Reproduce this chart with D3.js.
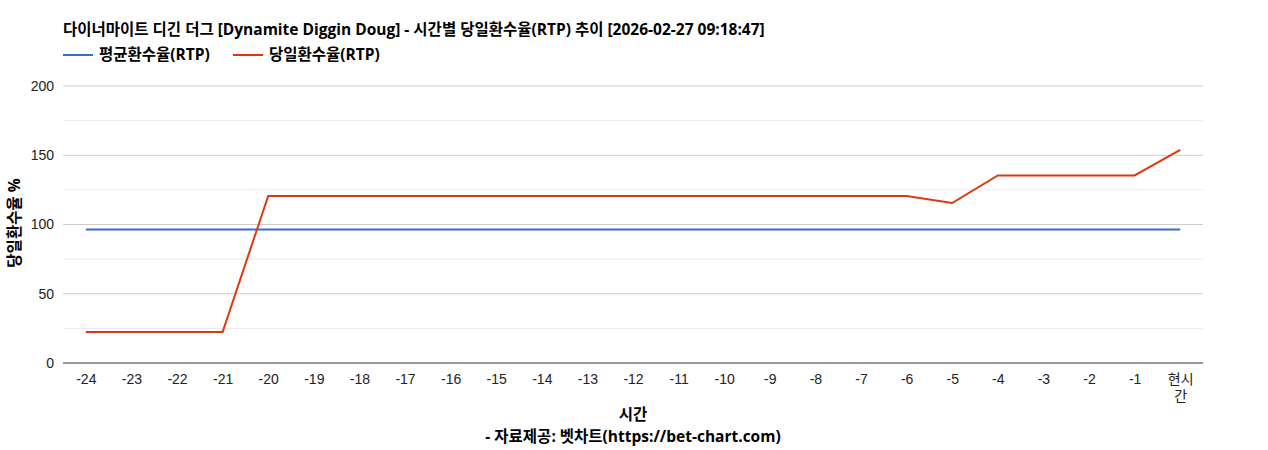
<!DOCTYPE html>
<html>
<head>
<meta charset="utf-8">
<script src="https://cdn.jsdelivr.net/npm/d3@7"></script>
<style>
    body { margin: 0; background: #fff; }
    text { font-family: Arial, "Liberation Sans", "Noto Sans CJK KR", sans-serif; }
    .bold-label { font-family: "Open Sans", "Noto Sans CJK KR", sans-serif; font-weight: bold; font-size: 15.5px; fill: #000; }
</style>
</head>
<body>
<svg id="chart" width="1268" height="450"></svg>
<script>
// x categories (hours before now)
const hours = ['-24','-23','-22','-21','-20','-19','-18','-17','-16','-15','-14','-13','-12',
               '-11','-10','-9','-8','-7','-6','-5','-4','-3','-2','-1','현시간'];
// average RTP (flat)
const avgRtp = [96.4,96.4,96.4,96.4,96.4,96.4,96.4,96.4,96.4,96.4,96.4,96.4,96.4,
                96.4,96.4,96.4,96.4,96.4,96.4,96.4,96.4,96.4,96.4,96.4,96.4];
// daily RTP
const dailyRtp = [22.4,22.4,22.4,22.4,120.6,120.6,120.6,120.6,120.6,120.6,120.6,120.6,120.6,
                  120.6,120.6,120.6,120.6,120.6,120.6,115.5,135.4,135.4,135.4,135.4,153.8];
const yTicks = [0,50,100,150,200];
const yMinorTicks = [25,75,125,175];

const seriesNames = ['평균환수율(RTP)', '당일환수율(RTP)'];
const seriesColors = ['#3a6bd1', '#dc3912'];

const svg = d3.select('#chart');
const plot = { left: 63, right: 1203, top: 86, bottom: 363 };

let x = d3.scalePoint()
    .domain(hours)
    .range([plot.left, plot.right])
    .padding(0.5);

let y = d3.scaleLinear()
    .domain([0, 200])
    .range([plot.bottom, plot.top]);

// title
svg.append('text')
    .attr('class', 'bold-label')
    .attr('x', 63).attr('y', 35)
    .text('다이너마이트 디긴 더그 [Dynamite Diggin Doug] - 시간별 당일환수율(RTP) 추이 [2026-02-27 09:18:47]');

// legend
let lx = [63, 233];
seriesNames.forEach(function(name, i){
    svg.append('line')
        .attr('x1', lx[i]).attr('x2', lx[i] + 30)
        .attr('y1', 55).attr('y2', 55)
        .style('stroke', seriesColors[i]).style('stroke-width', 2);
    svg.append('text')
        .attr('class', 'bold-label')
        .attr('x', lx[i] + 36).attr('y', 60)
        .text(name);
});

// gridlines
svg.append('g').selectAll('line')
    .data(yMinorTicks)
    .enter().append('line')
    .attr('x1', plot.left).attr('x2', plot.right)
    .attr('y1', d => y(d)).attr('y2', d => y(d))
    .style('stroke', '#ebebeb');

svg.append('g').selectAll('line')
    .data(yTicks.slice(1))
    .enter().append('line')
    .attr('x1', plot.left).attr('x2', plot.right)
    .attr('y1', d => y(d)).attr('y2', d => y(d))
    .style('stroke', '#cccccc');

// y axis labels
let yAxis = svg.append('g')
    .attr('transform', 'translate(' + plot.left + ',0)')
    .call(d3.axisLeft(y).tickValues(yTicks).tickSize(0).tickPadding(9));
yAxis.select('.domain').remove();
yAxis.selectAll('text')
    .style('font-size', '14px').style('fill', '#222')
    .style('font-family', 'Arial, "Liberation Sans", sans-serif');

// x axis
let xAxis = svg.append('g')
    .attr('transform', 'translate(0,' + plot.bottom + ')')
    .call(d3.axisBottom(x).tickSize(0).tickPadding(11));
xAxis.select('.domain').remove();
xAxis.selectAll('text')
    .style('font-size', '14px').style('fill', '#222')
    .style('font-family', 'Arial, "Liberation Sans", "Noto Sans CJK KR", sans-serif')
    .each(function(d){
        // wrap the last label onto two lines
        if(d === '현시간'){
            let t = d3.select(this);
            t.text(null);
            t.append('tspan').attr('x', 0).attr('dy', '0.71em').text('현시');
            t.append('tspan').attr('x', 0).attr('dy', '1.25em').text('간');
        }
    });

// baseline
svg.append('line')
    .attr('x1', plot.left).attr('x2', plot.right)
    .attr('y1', y(0)).attr('y2', y(0))
    .style('stroke', '#333').style('stroke-width', 1);

// series lines
let line = d3.line()
    .x((d, i) => x(hours[i]))
    .y(d => y(d));

[avgRtp, dailyRtp].forEach(function(values, i){
    svg.append('path')
        .datum(values)
        .attr('d', line)
        .style('fill', 'none')
        .style('stroke', seriesColors[i])
        .style('stroke-width', 2);
});

// axis titles
svg.append('text')
    .attr('class', 'bold-label')
    .attr('transform', 'translate(20,' + 223 + ') rotate(-90)')
    .attr('text-anchor', 'middle')
    .text('당일환수율 %');

svg.append('text')
    .attr('class', 'bold-label')
    .attr('x', 633).attr('y', 420)
    .attr('text-anchor', 'middle')
    .text('시간');

svg.append('text')
    .attr('class', 'bold-label')
    .attr('x', 633).attr('y', 442)
    .attr('text-anchor', 'middle')
    .text('- 자료제공: 벳차트(https://bet-chart.com)');
</script>
</body>
</html>
